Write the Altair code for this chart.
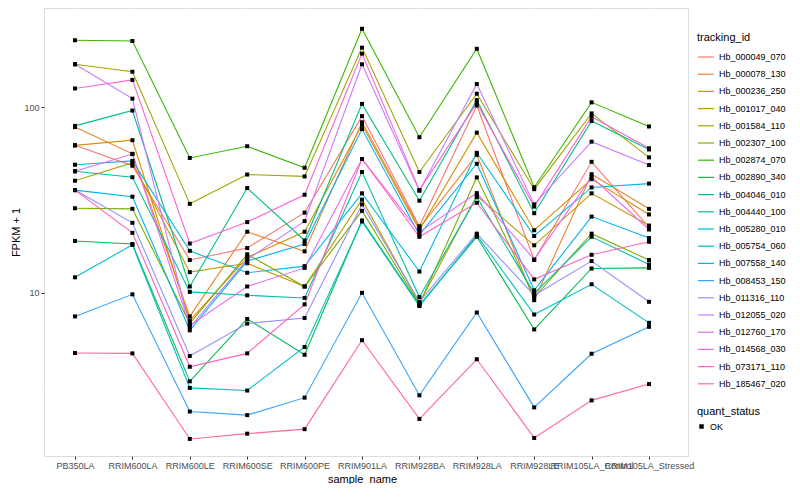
import altair as alt
import pandas as pd

samples = ["PB350LA", "RRIM600LA", "RRIM600LE", "RRIM600SE", "RRIM600PE",
           "RRIM901LA", "RRIM928BA", "RRIM928LA", "RRIM928LE",
           "RRIM105LA_Control", "RRIM105LA_Stressed"]

ids = ["Hb_000049_070", "Hb_000078_130", "Hb_000236_250", "Hb_001017_040",
       "Hb_001584_110", "Hb_002307_100", "Hb_002874_070", "Hb_002890_340",
       "Hb_004046_010", "Hb_004440_100", "Hb_005280_010", "Hb_005754_060",
       "Hb_007558_140", "Hb_008453_150", "Hb_011316_110", "Hb_012055_020",
       "Hb_012760_170", "Hb_014568_030", "Hb_073171_110", "Hb_185467_020"]

colors = ["#F8766D", "#EA8331", "#D89000", "#C09B00", "#A3A500", "#7CAE00",
          "#39B600", "#00BB4E", "#00BF7D", "#00C1A3", "#00BFC4", "#00BAE0",
          "#00B0F6", "#35A2FF", "#9590FF", "#C77CFF", "#E76BF3", "#FA62DB",
          "#FF62BC", "#FF6C91"]

# FPKM + 1 per gene, in sample order
hb_000049_070 = [62.2, 48.3, 15.0, 17.4, 27.0, 89.4, 22.8, 102, 15.0, 50.7, 22.5]
hb_000078_130 = [78.0, 56.0, 7.45, 21.3, 16.7, 82.8, 22.3, 55.3, 9.11, 43.5, 28.3]
hb_000236_250 = [62.2, 66.3, 7.07, 15.5, 21.3, 80.2, 21.8, 72.8, 21.7, 40.9, 26.4]
hb_001017_040 = [40.1, 50.1, 12.9, 14.4, 10.8, 31.7, 8.79, 33.3, 18.0, 34.3, 23.0]
hb_001584_110 = [170, 155, 30.1, 43.3, 42.3, 209, 44.7, 118, 36.1, 92.4, 53.6]
hb_002307_100 = [28.5, 28.3, 6.82, 16.1, 10.8, 27.6, 8.68, 41.8, 9.45, 20.8, 15.0]
hb_002874_070 = [229, 227, 53.2, 61.5, 47.1, 264, 68.8, 206, 37.0, 106, 78.6]
hb_002890_340 = [19.0, 18.3, 3.33, 7.22, 4.63, 24.5, 8.58, 20.0, 6.34, 13.5, 13.6]
hb_004046_010 = [79.2, 95.8, 10.8, 36.6, 19.1, 104, 31.3, 109, 26.8, 84.2, 59.1]
hb_004440_100 = [45.1, 41.9, 10.1, 9.68, 9.37, 44.7, 9.48, 32.7, 9.92, 20.0, 14.2]
hb_005280_010 = [12.1, 18.1, 3.07, 2.97, 5.10, 24.2, 8.47, 20.4, 7.63, 11.1, 6.88]
hb_005754_060 = [48.9, 51.3, 16.8, 12.8, 13.9, 34.3, 13.0, 56.7, 20.2, 36.9, 38.7]
hb_007558_140 = [35.7, 32.9, 6.27, 14.8, 18.3, 76.1, 20.5, 49.5, 10.3, 25.7, 19.7]
hb_008453_150 = [7.45, 9.80, 2.29, 2.19, 2.72, 9.98, 2.80, 7.82, 2.41, 4.69, 6.55]
hb_011316_110 = [35.7, 23.8, 4.56, 6.82, 7.31, 29.9, 8.93, 20.8, 9.68, 14.8, 8.93]
hb_012055_020 = [170, 111, 6.50, 15.1, 24.3, 170, 35.4, 133, 29.9, 65.1, 48.7]
hb_012760_170 = [45.1, 55.8, 6.66, 10.8, 13.6, 52.5, 21.2, 34.4, 15.1, 42.1, 21.9]
hb_014568_030 = [126, 140, 18.4, 24.0, 33.7, 194, 35.7, 105, 29.1, 88.6, 60.0]
hb_073171_110 = [35.7, 21.0, 3.99, 4.71, 8.65, 52.5, 20.0, 30.5, 11.8, 16.0, 18.8]
hb_185467_020 = [4.73, 4.71, 1.63, 1.74, 1.84, 5.55, 2.09, 4.38, 1.65, 2.63, 3.22]

series = [hb_000049_070, hb_000078_130, hb_000236_250, hb_001017_040,
          hb_001584_110, hb_002307_100, hb_002874_070, hb_002890_340,
          hb_004046_010, hb_004440_100, hb_005280_010, hb_005754_060,
          hb_007558_140, hb_008453_150, hb_011316_110, hb_012055_020,
          hb_012760_170, hb_014568_030, hb_073171_110, hb_185467_020]

major_breaks = [10, 100]
minor_breaks = [3.162, 31.62, 316.2]

rows = []
for gid, vals in zip(ids, series):
    for s, v in zip(samples, vals):
        rows.append({"sample_name": s, "tracking_id": gid, "fpkm": v,
                     "quant_status": "OK"})
df = pd.DataFrame(rows)
minor_df = pd.DataFrame({"b": minor_breaks})

FONT = "Liberation Sans"

yscale = alt.Scale(type="log", domain=[1.319, 341.7], nice=False)
xscale = alt.Scale(type="point", padding=0, range=[31, 605])

xenc = alt.X("sample_name:N", sort=samples, scale=xscale,
             axis=alt.Axis(title="sample_name", labelAngle=0, labelOverlap=False,
                           labelBound=False, grid=True, gridColor="white",
                           gridWidth=1.4, domain=False, tickColor="#333333",
                           tickSize=3, labelPadding=2, labelFontSize=9,
                           labelColor="#4D4D4D", titleFontSize=11,
                           titleFontWeight="normal", titleColor="black",
                           titlePadding=3, labelFont=FONT, titleFont=FONT))
yenc = alt.Y("fpkm:Q", scale=yscale,
             axis=alt.Axis(title="FPKM + 1", values=major_breaks, format="d",
                           grid=True, gridColor="white", gridWidth=1.4,
                           domain=False, tickColor="#333333", tickSize=3,
                           labelPadding=2, labelFontSize=9, labelColor="#4D4D4D",
                           titleFontSize=11, titleFontWeight="normal",
                           titleColor="black", titlePadding=2,
                           labelFont=FONT, titleFont=FONT))

minor = alt.Chart(minor_df).mark_rule(color="white", strokeWidth=0.7).encode(
    y=alt.Y("b:Q", scale=yscale)
)

lines = alt.Chart(df).mark_line(strokeWidth=1.1).encode(
    x=xenc,
    y=yenc,
    color=alt.Color("tracking_id:N", sort=ids,
                    scale=alt.Scale(domain=ids, range=colors),
                    legend=alt.Legend(title="tracking_id", orient="none",
                                      legendX=653, legendY=24,
                                      symbolType="stroke", symbolStrokeWidth=1.2,
                                      symbolSize=256, rowPadding=3.2,
                                      labelFontSize=9, labelColor="black",
                                      titleFontSize=11, titleFontWeight="normal",
                                      titleColor="black", titlePadding=5,
                                      labelFont=FONT, titleFont=FONT)),
    detail="tracking_id:N",
)

points = alt.Chart(df).mark_point(filled=True, color="black", size=16, opacity=1).encode(
    x=alt.X("sample_name:N", sort=samples, scale=xscale),
    y=alt.Y("fpkm:Q", scale=yscale),
    shape=alt.Shape("quant_status:N", scale=alt.Scale(range=["square"]),
                    legend=alt.Legend(title="quant_status", orient="none",
                                      legendX=653, legendY=398,
                                      symbolFillColor="black", symbolStrokeColor="black",
                                      symbolSize=20, labelFontSize=9,
                                      labelColor="black", titleFontSize=11,
                                      titleFontWeight="normal", titleColor="black",
                                      titlePadding=5, labelFont=FONT, titleFont=FONT)),
)

chart = alt.layer(minor, lines, points).properties(
    width=644, height=448,
    padding={"left": 36, "top": 0, "right": 104, "bottom": 28},
    autosize=alt.AutoSizeParams(type="none"),
).configure_view(fill="#EBEBEB", stroke=None).configure(background="white")

chart.save("out.html", embed_options={"renderer": "svg", "actions": False})
